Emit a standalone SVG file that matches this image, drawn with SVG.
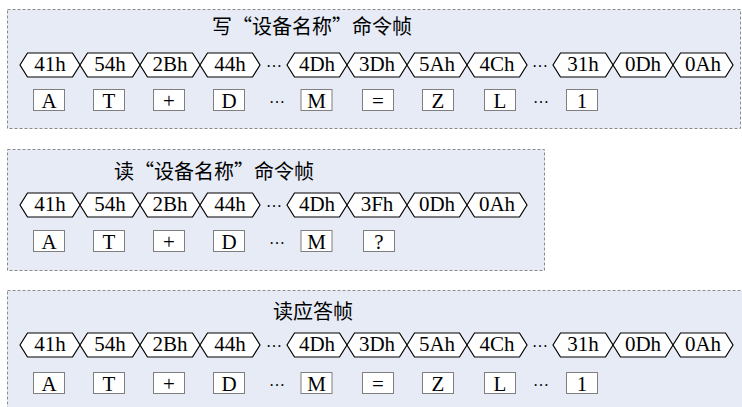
<svg xmlns="http://www.w3.org/2000/svg" width="742" height="407" viewBox="0 0 742 407">
<style>
.panel{fill:#e6ebf5;stroke:#8c8c8c;stroke-width:1;stroke-dasharray:3,2}
.hex{fill:#ffffff;stroke:#000000;stroke-width:1.2}
.box{fill:#ffffff;stroke:#7f7f7f;stroke-width:1}
.t{font-family:"Liberation Serif","Times New Roman",serif;font-size:21px;fill:#000;text-anchor:middle}
.d{font-family:"Liberation Serif","Times New Roman",serif;font-size:16px;fill:#000;text-anchor:middle}
.title{font-family:"Noto Sans CJK SC",sans-serif;font-size:20px;fill:#000;text-anchor:middle}
</style>
<defs>
<polygon id="hx" class="hex" points="0,0 7.5,-12 52.5,-12 60,0 52.5,12 7.5,12"/>
<rect id="bx" class="box" x="-15.5" y="0" width="31" height="21"/>
</defs>
<rect class="panel" x="7.5" y="9.5" width="733" height="119"/>
<rect class="panel" x="7.5" y="149.5" width="537" height="121"/>
<rect class="panel" x="7.5" y="290.5" width="737" height="130"/>
<text class="title" x="312" y="34">写“设备名称”命令帧</text>
<text class="title" x="214" y="179">读“设备名称”命令帧</text>
<text class="title" x="313" y="319">读应答帧</text>
<g id="p1hex">
<g id="p1h1"><use href="#hx" x="20" y="65"/><text class="t" x="50" y="71">41h</text></g>
<g id="p1h2"><use href="#hx" x="80" y="65"/><text class="t" x="110" y="71">54h</text></g>
<g id="p1h3"><use href="#hx" x="140" y="65"/><text class="t" x="170" y="71">2Bh</text></g>
<g id="p1h4"><use href="#hx" x="200" y="65"/><text class="t" x="230" y="71">44h</text></g>
<text class="d" x="274" y="67">…</text>
<g id="p1h5"><use href="#hx" x="287" y="65"/><text class="t" x="317" y="71">4Dh</text></g>
<g id="p1h6"><use href="#hx" x="347" y="65"/><text class="t" x="377" y="71">3Dh</text></g>
<g id="p1h7"><use href="#hx" x="407" y="65"/><text class="t" x="437" y="71">5Ah</text></g>
<g id="p1h8"><use href="#hx" x="467" y="65"/><text class="t" x="497" y="71">4Ch</text></g>
<text class="d" x="540" y="67">…</text>
<g id="p1h9"><use href="#hx" x="553" y="65"/><text class="t" x="583" y="71">31h</text></g>
<g id="p1h10"><use href="#hx" x="613" y="65"/><text class="t" x="643" y="71">0Dh</text></g>
<g id="p1h11"><use href="#hx" x="673" y="65"/><text class="t" x="703" y="71">0Ah</text></g>
</g>
<g id="p1box">
<g id="p1b1"><use href="#bx" x="49" y="89.5"/><text class="t" x="49" y="108">A</text></g>
<g id="p1b2"><use href="#bx" x="109" y="89.5"/><text class="t" x="109" y="108">T</text></g>
<g id="p1b3"><use href="#bx" x="169" y="89.5"/><text class="t" x="169" y="108">+</text></g>
<g id="p1b4"><use href="#bx" x="229" y="89.5"/><text class="t" x="229" y="108">D</text></g>
<text class="d" x="277" y="103">…</text>
<g id="p1b5"><use href="#bx" x="316.5" y="89.5"/><text class="t" x="316.5" y="108">M</text></g>
<g id="p1b6"><use href="#bx" x="378" y="89.5"/><text class="t" x="378" y="108">=</text></g>
<g id="p1b7"><use href="#bx" x="438" y="89.5"/><text class="t" x="438" y="108">Z</text></g>
<g id="p1b8"><use href="#bx" x="500" y="89.5"/><text class="t" x="500" y="108">L</text></g>
<text class="d" x="541" y="103">…</text>
<g id="p1b9"><use href="#bx" x="582" y="89.5"/><text class="t" x="582" y="108">1</text></g>
</g>
<g id="p2hex">
<g id="p2h1"><use href="#hx" x="20" y="205"/><text class="t" x="50" y="211">41h</text></g>
<g id="p2h2"><use href="#hx" x="80" y="205"/><text class="t" x="110" y="211">54h</text></g>
<g id="p2h3"><use href="#hx" x="140" y="205"/><text class="t" x="170" y="211">2Bh</text></g>
<g id="p2h4"><use href="#hx" x="200" y="205"/><text class="t" x="230" y="211">44h</text></g>
<text class="d" x="274" y="207">…</text>
<g id="p2h5"><use href="#hx" x="287" y="205"/><text class="t" x="317" y="211">4Dh</text></g>
<g id="p2h6"><use href="#hx" x="347" y="205"/><text class="t" x="377" y="211">3Fh</text></g>
<g id="p2h7"><use href="#hx" x="407" y="205"/><text class="t" x="437" y="211">0Dh</text></g>
<g id="p2h8"><use href="#hx" x="467" y="205"/><text class="t" x="497" y="211">0Ah</text></g>
</g>
<g id="p2box">
<g id="p2b1"><use href="#bx" x="49" y="230.5"/><text class="t" x="49" y="249">A</text></g>
<g id="p2b2"><use href="#bx" x="109" y="230.5"/><text class="t" x="109" y="249">T</text></g>
<g id="p2b3"><use href="#bx" x="169" y="230.5"/><text class="t" x="169" y="249">+</text></g>
<g id="p2b4"><use href="#bx" x="229" y="230.5"/><text class="t" x="229" y="249">D</text></g>
<text class="d" x="277" y="244">…</text>
<g id="p2b5"><use href="#bx" x="316.5" y="230.5"/><text class="t" x="316.5" y="249">M</text></g>
<g id="p2b6"><use href="#bx" x="379" y="230.5"/><text class="t" x="379" y="249">?</text></g>
</g>
<g id="p3hex">
<g id="p3h1"><use href="#hx" x="20" y="345"/><text class="t" x="50" y="351">41h</text></g>
<g id="p3h2"><use href="#hx" x="80" y="345"/><text class="t" x="110" y="351">54h</text></g>
<g id="p3h3"><use href="#hx" x="140" y="345"/><text class="t" x="170" y="351">2Bh</text></g>
<g id="p3h4"><use href="#hx" x="200" y="345"/><text class="t" x="230" y="351">44h</text></g>
<text class="d" x="274" y="347">…</text>
<g id="p3h5"><use href="#hx" x="287" y="345"/><text class="t" x="317" y="351">4Dh</text></g>
<g id="p3h6"><use href="#hx" x="347" y="345"/><text class="t" x="377" y="351">3Dh</text></g>
<g id="p3h7"><use href="#hx" x="407" y="345"/><text class="t" x="437" y="351">5Ah</text></g>
<g id="p3h8"><use href="#hx" x="467" y="345"/><text class="t" x="497" y="351">4Ch</text></g>
<text class="d" x="540" y="347">…</text>
<g id="p3h9"><use href="#hx" x="553" y="345"/><text class="t" x="583" y="351">31h</text></g>
<g id="p3h10"><use href="#hx" x="613" y="345"/><text class="t" x="643" y="351">0Dh</text></g>
<g id="p3h11"><use href="#hx" x="673" y="345"/><text class="t" x="703" y="351">0Ah</text></g>
</g>
<g id="p3box">
<g id="p3b1"><use href="#bx" x="49" y="372.5"/><text class="t" x="49" y="391">A</text></g>
<g id="p3b2"><use href="#bx" x="109" y="372.5"/><text class="t" x="109" y="391">T</text></g>
<g id="p3b3"><use href="#bx" x="169" y="372.5"/><text class="t" x="169" y="391">+</text></g>
<g id="p3b4"><use href="#bx" x="229" y="372.5"/><text class="t" x="229" y="391">D</text></g>
<text class="d" x="277" y="386">…</text>
<g id="p3b5"><use href="#bx" x="316.5" y="372.5"/><text class="t" x="316.5" y="391">M</text></g>
<g id="p3b6"><use href="#bx" x="378" y="372.5"/><text class="t" x="378" y="391">=</text></g>
<g id="p3b7"><use href="#bx" x="438" y="372.5"/><text class="t" x="438" y="391">Z</text></g>
<g id="p3b8"><use href="#bx" x="500" y="372.5"/><text class="t" x="500" y="391">L</text></g>
<text class="d" x="541" y="386">…</text>
<g id="p3b9"><use href="#bx" x="582" y="372.5"/><text class="t" x="582" y="391">1</text></g>
</g>
<g id="connectors"></g>
</svg>
